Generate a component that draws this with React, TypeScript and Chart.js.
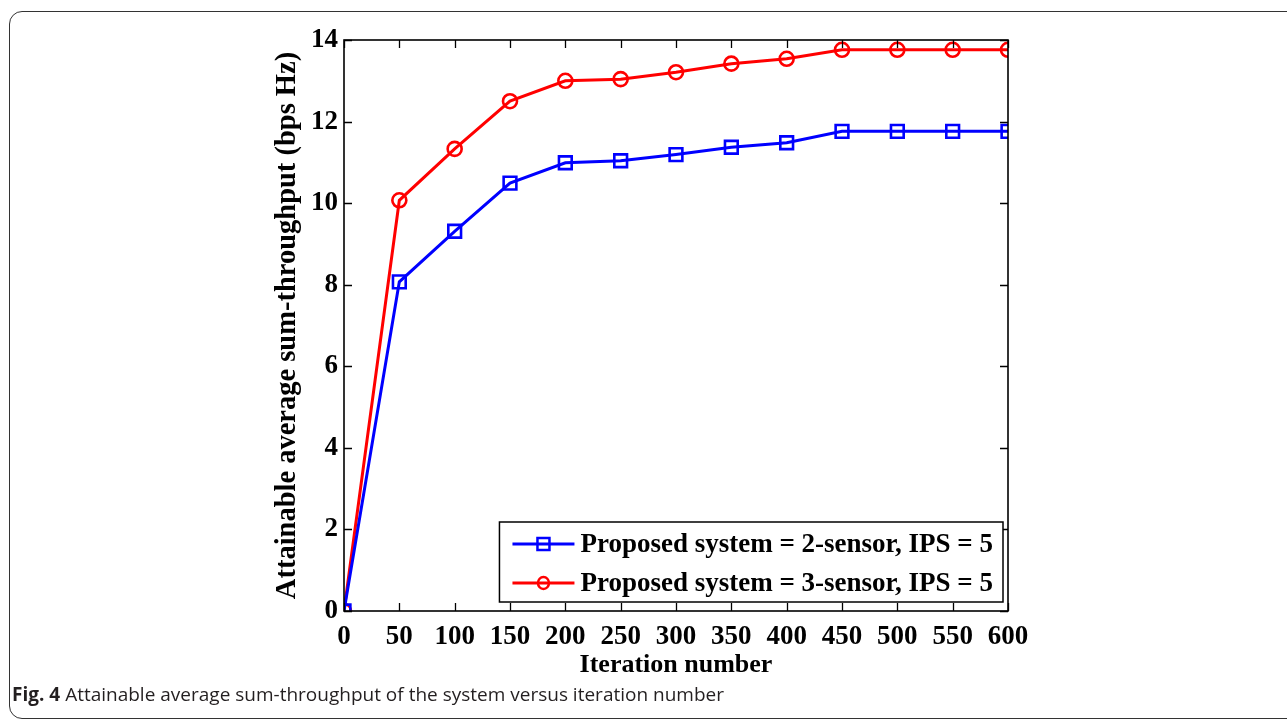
import React, { useEffect, useRef } from "react";
import { Chart, registerables } from "chart.js";

Chart.register(...registerables);

const iterations = [0, 50, 100, 150, 200, 250, 300, 350, 400, 450, 500, 550, 600];
const twoSensor = [0, 8.07, 9.31, 10.49, 10.99, 11.04, 11.19, 11.37, 11.48, 11.76, 11.76, 11.76, 11.76];
const threeSensor = [0, 10.07, 11.33, 12.5, 13.0, 13.04, 13.21, 13.42, 13.54, 13.76, 13.76, 13.76, 13.76];
const seriesLabels = [
  "Proposed system = 2-sensor, IPS = 5",
  "Proposed system = 3-sensor, IPS = 5",
];
const xTickValues = [0, 50, 100, 150, 200, 250, 300, 350, 400, 450, 500, 550, 600];
const yTickValues = [0, 2, 4, 6, 8, 10, 12, 14];
const xTitle = "Iteration number";
const yTitle = "Attainable average sum-throughput (bps Hz)";
const caption = "Attainable average sum-throughput of the system versus iteration number";

const SERIF = "'Liberation Serif', 'Times New Roman', serif";

const boxPlugin = {
  id: "matlabBox",
  afterDatasetsDraw(chart: any) {
    const { ctx, chartArea: a, scales } = chart;
    const xs = scales.x;
    const ys = scales.y;
    const tl = 8;
    ctx.save();
    ctx.strokeStyle = "#000";
    ctx.lineWidth = 1.3;
    ctx.beginPath();
    for (const v of xTickValues) {
      const px = Math.round(xs.getPixelForValue(v)) + 0.5;
      ctx.moveTo(px, a.bottom);
      ctx.lineTo(px, a.bottom - tl);
      ctx.moveTo(px, a.top);
      ctx.lineTo(px, a.top + tl);
    }
    for (const v of yTickValues) {
      const py = Math.round(ys.getPixelForValue(v)) + 0.5;
      ctx.moveTo(a.left, py);
      ctx.lineTo(a.left + tl, py);
      ctx.moveTo(a.right, py);
      ctx.lineTo(a.right - tl, py);
    }
    ctx.stroke();
    ctx.lineWidth = 1.6;
    ctx.strokeRect(a.left, a.top, a.right - a.left, a.bottom - a.top);
    ctx.restore();
  },
};

const legendPlugin = {
  id: "insideLegend",
  afterDraw(chart: any) {
    const { ctx, chartArea: a } = chart;
    const ds = chart.data.datasets;
    ctx.save();
    ctx.font = `bold 27px ${SERIF}`;
    let tw = 0;
    for (const d of ds) tw = Math.max(tw, ctx.measureText(d.label).width);
    const lineStart = 13;
    const lineLen = 62;
    const gap = 6;
    const w = lineStart + lineLen + gap + tw + 10;
    const h = 80;
    const right = a.right - 5;
    const bottom = a.bottom - 9;
    const left = right - w;
    const top = bottom - h;
    ctx.fillStyle = "#fff";
    ctx.fillRect(left, top, w, h);
    ctx.strokeStyle = "#000";
    ctx.lineWidth = 1.5;
    ctx.strokeRect(left, top, w, h);
    const rows = [top + 22, top + 61];
    ds.forEach((d: any, i: number) => {
      const y = rows[i];
      const x0 = left + lineStart;
      const x1 = x0 + lineLen;
      const cx = (x0 + x1) / 2;
      ctx.strokeStyle = d.borderColor;
      ctx.lineWidth = 3;
      ctx.beginPath();
      ctx.moveTo(x0, y);
      ctx.lineTo(x1, y);
      ctx.stroke();
      ctx.lineWidth = 2.5;
      ctx.beginPath();
      if (d.pointStyle === "rect") {
        ctx.rect(cx - 6, y - 6, 12, 12);
      } else {
        ctx.ellipse(cx, y, 5.5, 6, 0, 0, Math.PI * 2);
      }
      ctx.stroke();
      ctx.fillStyle = "#000";
      ctx.textAlign = "left";
      ctx.textBaseline = "middle";
      ctx.fillText(d.label, x1 + gap, y + 1);
    });
    ctx.restore();
  },
};

export default function App() {
  const ref = useRef<HTMLCanvasElement | null>(null);

  useEffect(() => {
    if (!ref.current) return;
    const chart = new Chart(ref.current, {
      type: "line",
      data: {
        datasets: [
          {
            label: seriesLabels[0],
            data: iterations.map((x, i) => ({ x, y: twoSensor[i] })),
            borderColor: "#0000ff",
            backgroundColor: "rgba(0,0,0,0)",
            borderWidth: 3,
            pointStyle: "rect",
            pointRadius: 9,
            pointBorderWidth: 2.6,
            pointBorderColor: "#0000ff",
            pointBackgroundColor: "rgba(0,0,0,0)",
            tension: 0,
          },
          {
            label: seriesLabels[1],
            data: iterations.map((x, i) => ({ x, y: threeSensor[i] })),
            borderColor: "#ff0000",
            backgroundColor: "rgba(0,0,0,0)",
            borderWidth: 3,
            pointStyle: "circle",
            pointRadius: 7,
            pointBorderWidth: 2.6,
            pointBorderColor: "#ff0000",
            pointBackgroundColor: "rgba(0,0,0,0)",
            tension: 0,
          },
        ],
      },
      options: {
        animation: false,
        responsive: false,
        maintainAspectRatio: false,
        events: [],
        layout: { padding: { left: 270, right: 279, top: 40, bottom: 9 } },
        plugins: {
          legend: { display: false },
          tooltip: { enabled: false },
          title: { display: false },
        },
        scales: {
          x: {
            type: "linear",
            min: 0,
            max: 600,
            afterFit: (s: any) => {
              s.height = 70;
            },
            afterBuildTicks: (s: any) => {
              s.ticks = xTickValues.map((v) => ({ value: v }));
            },
            grid: { display: false, drawTicks: false },
            border: { display: false },
            ticks: {
              color: "#000",
              padding: 10,
              maxRotation: 0,
              autoSkip: false,
              font: { family: SERIF, size: 27, weight: "bold" },
            },
            title: {
              display: true,
              text: xTitle,
              color: "#000",
              padding: { top: -1, bottom: 0 },
              font: { family: SERIF, size: 26, weight: "bold" },
            },
          },
          y: {
            type: "linear",
            min: 0,
            max: 14,
            afterFit: (s: any) => {
              s.width = 74;
            },
            afterBuildTicks: (s: any) => {
              s.ticks = yTickValues.map((v) => ({ value: v }));
            },
            grid: { display: false, drawTicks: false },
            border: { display: false },
            ticks: {
              color: "#000",
              padding: 6,
              autoSkip: false,
              font: { family: SERIF, size: 27, weight: "bold" },
            },
            title: {
              display: true,
              text: yTitle,
              color: "#000",
              padding: { top: 1, bottom: 0 },
              font: { family: SERIF, size: 28.5, weight: "bold" },
            },
          },
        },
      },
      plugins: [boxPlugin, legendPlugin],
    });
    return () => chart.destroy();
  }, []);

  return (
    <div
      style={{
        position: "fixed",
        left: 0,
        top: 0,
        width: 1287,
        height: 724,
        background: "#fff",
        overflow: "hidden",
      }}
    >
      <div
        style={{
          position: "absolute",
          left: 9,
          top: 11,
          width: 1320,
          height: 708,
          border: "1.5px solid #333",
          borderRadius: 13,
          boxSizing: "border-box",
        }}
      />
      <canvas
        ref={ref}
        width={1287}
        height={690}
        style={{ position: "absolute", left: 0, top: 0, width: 1287, height: 690 }}
      />
      <div
        style={{
          position: "absolute",
          left: 12,
          top: 682,
          fontFamily: "'Open Sans', sans-serif",
          fontSize: 19,
          lineHeight: "24px",
          color: "#231f20",
          whiteSpace: "nowrap",
        }}
      >
        <b>Fig. 4</b> {caption}
      </div>
    </div>
  );
}
